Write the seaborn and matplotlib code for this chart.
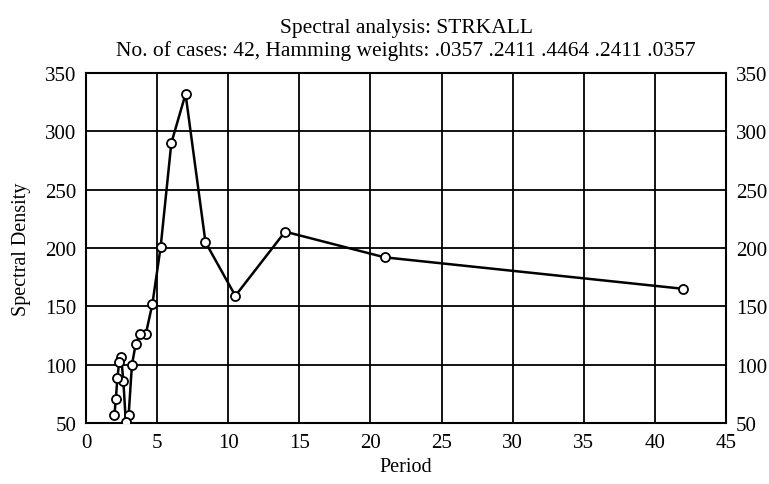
import matplotlib
matplotlib.use("Agg")
import matplotlib.pyplot as plt
import pandas as pd
import seaborn as sns

# periods 42/k, k = 1..21, with smoothed spectral density
period = [42.0, 21.0, 14.0, 10.5, 8.4, 7.0, 6.0, 5.25, 4.667, 4.2, 3.818,
          3.5, 3.231, 3.0, 2.8, 2.625, 2.471, 2.333, 2.211, 2.1, 2.0]
density = [165, 192, 214, 159, 205, 332, 290, 201, 152, 126, 126,
           118, 100, 57, 51, 86, 107, 102, 89, 71, 57]

xticks = [0, 5, 10, 15, 20, 25, 30, 35, 40, 45]
yticks = [50, 100, 150, 200, 250, 300, 350]

sns.set_theme(style="white")
plt.rcParams["font.family"] = ["Liberation Serif", "DejaVu Serif"]

df = pd.DataFrame({"Period": period, "Spectral Density": density})

fig = plt.figure(figsize=(7.69, 4.85), dpi=100)
ax = fig.add_axes([86 / 769, 1 - 424 / 485, 640 / 769, 350 / 485])

sns.lineplot(data=df, x="Period", y="Spectral Density", sort=False, ax=ax,
             color="black", lw=1.8, marker="o", markersize=6.5,
             markerfacecolor="white", markeredgecolor="black",
             markeredgewidth=1.3, zorder=3)

ax.set_xlim(0, 45)
ax.set_ylim(50, 350)
ax.set_xticks(xticks)
ax.set_yticks(yticks)
ax.grid(True, color="black", lw=1.3)
for s in ax.spines.values():
    s.set_color("black")
    s.set_linewidth(1.5)
ax.tick_params(axis="both", labelsize=15, colors="black", length=0, pad=7)
ax.set_xlabel("Period", fontsize=14.5, color="black", labelpad=4)
ax.set_ylabel("Spectral Density", fontsize=14.5, color="black", labelpad=10)

ax2 = ax.twinx()
ax2.set_ylim(ax.get_ylim())
ax2.set_yticks(yticks)
ax2.tick_params(axis="y", labelsize=15, colors="black", length=0, pad=7)
ax2.grid(False)
for s in ax2.spines.values():
    s.set_visible(False)

ax.set_title("Spectral analysis: STRKALL\n"
             "No. of cases: 42, Hamming weights: .0357 .2411 .4464 .2411 .0357",
             fontsize=15.5, color="black", pad=13, linespacing=1.2)

fig.savefig("out.png", dpi=100)
